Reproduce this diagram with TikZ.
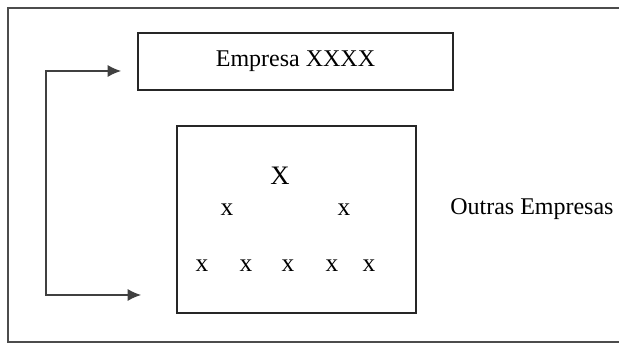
\documentclass[tikz,border=0pt]{standalone}
\usepackage{fontspec}
\setmainfont{Liberation Serif}
\usetikzlibrary{
  arrows.meta
  , positioning
}

\tikzset{
  box/.style={draw=black!85, line width=1.3pt, inner sep=0pt},
  leaf/.style={inner sep=0pt, font=\fontsize{19}{21}\selectfont},
}

\begin{document}
\begin{tikzpicture}[x=0.75pt, y=-0.75pt]
      \useasboundingbox (0,0) rectangle (619,345);
      % frame, open to the right
      \draw [black!70, line width=1pt] (619,8) -| (8,342) -- (619,342);

      \node [box,
        minimum width=236pt,
        minimum height=42.75pt,
        font=\fontsize{18}{20}\selectfont] (empresa) at (295.5,61.5) {Empresa XXXX};
      \node [box,
        minimum width=179.25pt,
        minimum height=140.25pt] (grupo) at (296.5,219.5) {};

      % the companies inside the group
      \node [leaf, font=\fontsize{20}{22}\selectfont] (top) at (280,176) {X};
      \node [leaf] (l1) at (227,210) {x};
      \node [leaf] (l2) at (344,210) {x};
      \foreach \i/\x in {1/202, 2/246, 3/288, 4/332, 5/369}
        \node [leaf] (b\i) at (\x,266) {x};

      \node [leaf, font=\fontsize{18}{20}\selectfont,
        anchor=west] (outras) at (450,209) {Outras Empresas};

      \coordinate (up) at (121,71);
      \coordinate (down) at (141,295);
      \coordinate (side) at (46,71);
      \draw [black!75, line width=0.9pt,
        {Latex[length=10pt,width=9pt]}-{Latex[length=10pt,width=9pt]}]
        (up) -- (side) |- (down);
    \end{tikzpicture}
\end{document}
